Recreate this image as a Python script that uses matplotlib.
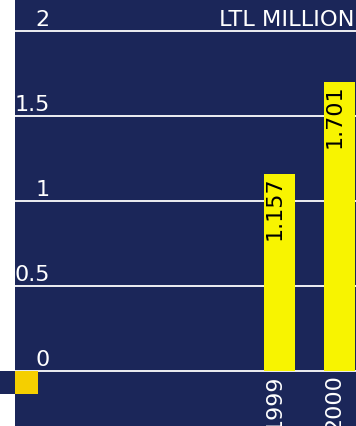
import matplotlib
matplotlib.use("Agg")
import matplotlib.pyplot as plt
import matplotlib.transforms as mtransforms
from matplotlib.patches import Rectangle

# data
years = ["1999", "2000"]
values = [1.157, 1.701]
yticks = [0, 0.5, 1, 1.5, 2]
ytick_labels = ["0", "0.5", "1", "1.5", "2"]
unit_label = "LTL MILLION"

NAVY = "#1b2659"
YELLOW = "#f8f400"
GOLD = "#f5cf00"
W, H = 356, 427

plt.rcParams["font.family"] = ["DejaVu Sans"]
fig = plt.figure(figsize=(W / 100, H / 100), dpi=100, facecolor="white")
ax = fig.add_axes([15 / W, 0, 1 - 15 / W, 1], facecolor=NAVY)

x = list(range(len(years)))
bw = 0.52
ax.bar(x, values, width=bw, color=YELLOW, zorder=3)

ax.set_xlim(-4.408, 1.275)
ax.set_ylim(-0.3235, 2.188)
for s in ax.spines.values():
    s.set_visible(False)
ax.set_xticks([])
ax.set_yticks([])

# gridlines + labels sitting on them
lab_tr = mtransforms.blended_transform_factory(ax.transAxes, ax.transData)
for t, lab in zip(yticks, ytick_labels):
    ax.axhline(t, color="white", lw=1.3, zorder=2)
    ax.text(0.102, t + 0.012, lab, transform=lab_tr, ha="right", va="bottom",
            color="white", fontsize=16, zorder=4)
ax.text(0.995, 2 + 0.012, unit_label, transform=lab_tr, ha="right", va="bottom",
        color="white", fontsize=16.2, zorder=4)

# value labels inside bars, year labels below axis
for xi, v, yr in zip(x, values, years):
    ax.text(xi - bw / 2 + 0.01, v - 0.008, f"{v:.3f}", rotation=90, ha="left", va="top",
            color="black", fontsize=16, zorder=5)
    ax.text(xi - bw / 2 + 0.01, -0.012, yr, rotation=90, ha="left", va="top",
            color="white", fontsize=16, zorder=5)

# small legend swatch at bottom-left
fig.patches.append(Rectangle((0, 1 - 395 / H), 15 / W, 23 / H, transform=fig.transFigure,
                             facecolor=NAVY, edgecolor="none", zorder=5))
fig.patches.append(Rectangle((15 / W, 1 - 395 / H), 23 / W, 23 / H, transform=fig.transFigure,
                             facecolor=GOLD, edgecolor="none", zorder=5))

fig.savefig("out.png", dpi=100, facecolor="white")
